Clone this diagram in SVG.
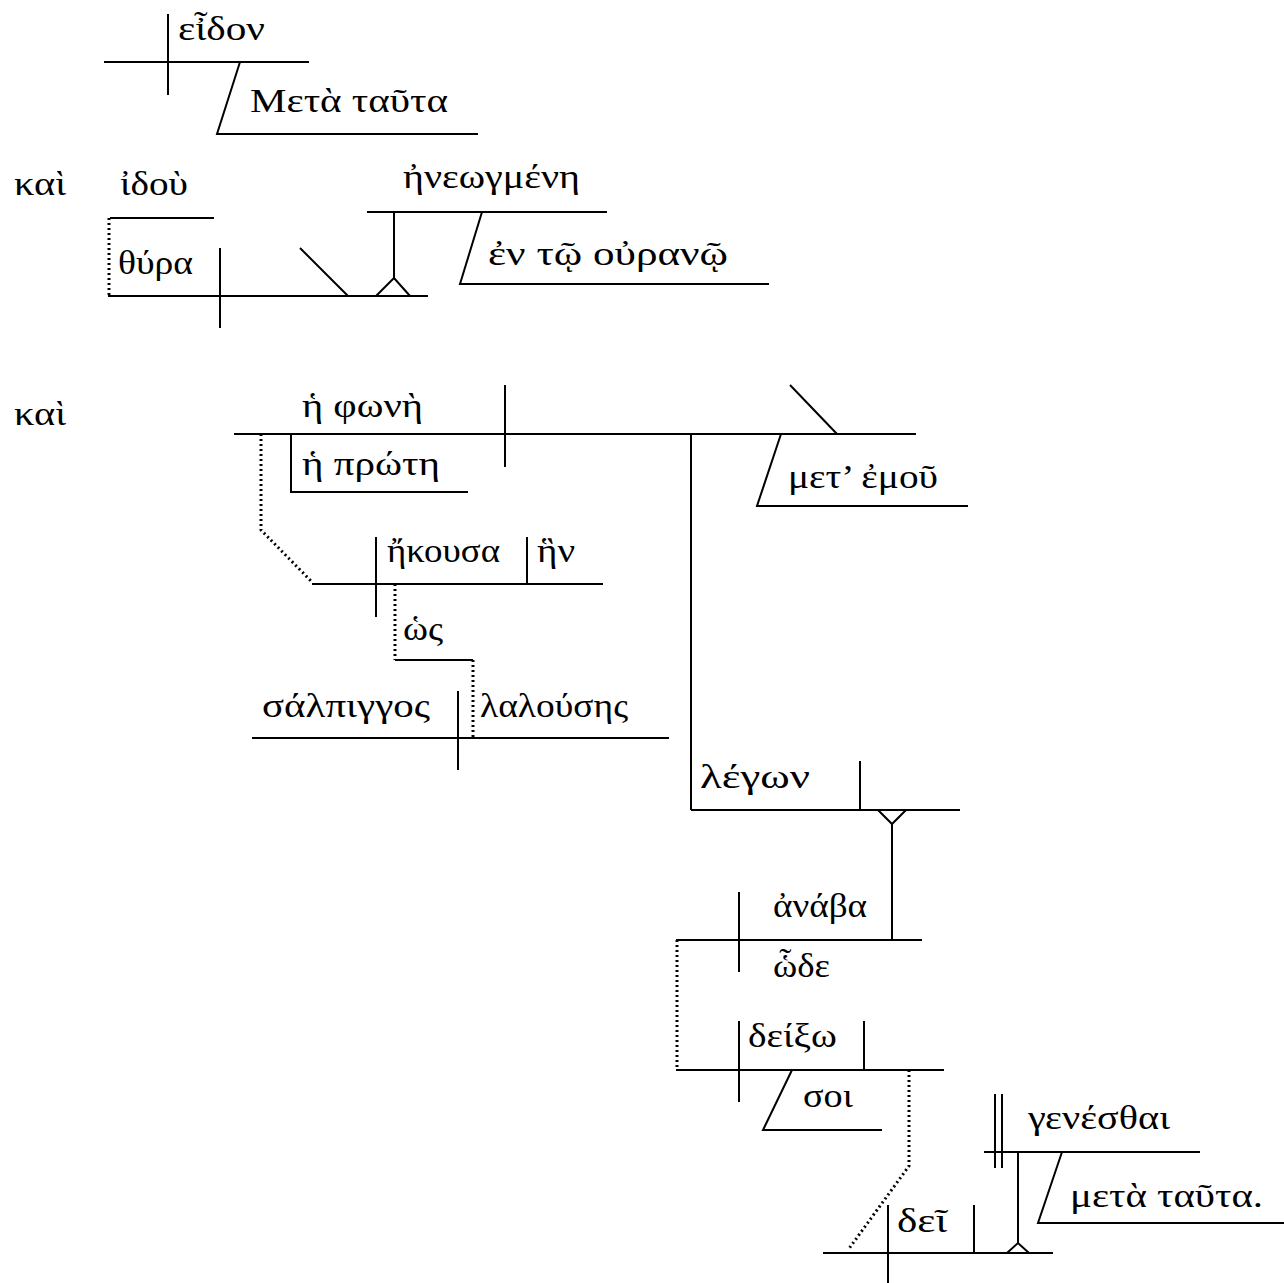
<svg xmlns="http://www.w3.org/2000/svg" width="1284" height="1283" viewBox="0 0 1284 1283">
<style>
.ln{stroke:#000;stroke-width:2;fill:none}
.dt{stroke:#000;stroke-width:3;fill:none;stroke-dasharray:2 3}
text{font-family:"Liberation Serif","DejaVu Serif",serif;font-size:34px;fill:#000}
</style>
<rect width="1284" height="1283" fill="#fff"/>
<g id="connectors">
<path class="dt" d="M109 218V296"/>
<path class="dt" d="M261 434V530L312 582"/>
<path class="dt" d="M395 584V660"/>
<path class="ln" d="M395 660H473"/>
<path class="dt" d="M473 660V738"/>
<path class="ln" d="M691 434V810"/>
<path class="ln" d="M892 824V940M878 810L892 824L906 810"/>
<path class="dt" d="M677 940V1070"/>
<path class="dt" d="M909 1070V1166L848 1250"/>
<path class="ln" d="M1018 1152V1243M1007 1253L1018 1243L1029 1253"/>
<path class="ln" d="M394 212V278M376 296L394 278L410 296"/>
</g>
<g id="n-eidon">
<path class="ln" d="M104 62H309M168 14V95"/>
<text x="178" y="40" textLength="87" lengthAdjust="spacingAndGlyphs">εἶδον</text>
</g>
<g id="n-meta-tauta">
<path class="ln" d="M240 62L217 134H478"/>
<text x="250" y="112" textLength="198" lengthAdjust="spacingAndGlyphs">Μετὰ ταῦτα</text>
</g>
<g id="n-kai1"><text x="14" y="195" textLength="52" lengthAdjust="spacingAndGlyphs">καὶ</text></g>
<g id="n-idou">
<path class="ln" d="M110 218H214"/>
<text x="120" y="195" textLength="68" lengthAdjust="spacingAndGlyphs">ἰδοὺ</text>
</g>
<g id="n-thura">
<path class="ln" d="M108 296H428M220 248V328M300 248L348 296"/>
<text x="118" y="274" textLength="75" lengthAdjust="spacingAndGlyphs">θύρα</text>
</g>
<g id="n-ineogmeni">
<path class="ln" d="M367 212H607"/>
<text x="403" y="188" textLength="177" lengthAdjust="spacingAndGlyphs">ἠνεωγμένη</text>
</g>
<g id="n-en-to-ourano">
<path class="ln" d="M482 212L460 284H769"/>
<text x="488" y="265" textLength="240" lengthAdjust="spacingAndGlyphs">ἐν τῷ οὐρανῷ</text>
</g>
<g id="n-kai2"><text x="14" y="425" textLength="52" lengthAdjust="spacingAndGlyphs">καὶ</text></g>
<g id="n-phone">
<path class="ln" d="M234 434H916M505 385V467"/>
<text x="302" y="417" textLength="121" lengthAdjust="spacingAndGlyphs">ἡ φωνὴ</text>
</g>
<g id="n-prote">
<path class="ln" d="M291 434V492H468"/>
<text x="302" y="475" textLength="138" lengthAdjust="spacingAndGlyphs">ἡ πρώτη</text>
</g>
<g id="n-met-emou">
<path class="ln" d="M790 385L837 434M781 434L757 506H968"/>
<text x="788" y="488" textLength="150" lengthAdjust="spacingAndGlyphs">μετ’ ἐμοῦ</text>
</g>
<g id="n-ekousa">
<path class="ln" d="M312 584H603M376 537V617M527 537V584"/>
<text x="387" y="562" textLength="113" lengthAdjust="spacingAndGlyphs">ἤκουσα</text>
<text x="537" y="562" textLength="38" lengthAdjust="spacingAndGlyphs">ἣν</text>
</g>
<g id="n-hos"><text x="403" y="640" textLength="40" lengthAdjust="spacingAndGlyphs">ὡς</text></g>
<g id="n-salpiggos">
<path class="ln" d="M252 738H669M458 691V770"/>
<text x="262" y="717" textLength="168" lengthAdjust="spacingAndGlyphs">σάλπιγγος</text>
<text x="480" y="717" textLength="148" lengthAdjust="spacingAndGlyphs">λαλούσης</text>
</g>
<g id="n-legon">
<path class="ln" d="M691 810H960M860 761V810"/>
<text x="700" y="788" textLength="110" lengthAdjust="spacingAndGlyphs">λέγων</text>
</g>
<g id="n-anaba">
<path class="ln" d="M676 940H922M739 892V972"/>
<text x="773" y="917" textLength="94" lengthAdjust="spacingAndGlyphs">ἀνάβα</text>
<text x="773" y="977" textLength="57" lengthAdjust="spacingAndGlyphs">ὧδε</text>
</g>
<g id="n-deixo">
<path class="ln" d="M676 1070H944M739 1021V1102M864 1021V1070"/>
<text x="748" y="1047" textLength="89" lengthAdjust="spacingAndGlyphs">δείξω</text>
</g>
<g id="n-soi">
<path class="ln" d="M792 1070L763 1130H882"/>
<text x="803" y="1107" textLength="50" lengthAdjust="spacingAndGlyphs">σοι</text>
</g>
<g id="n-dei">
<path class="ln" d="M823 1253H1053M888 1205V1283M974 1205V1253"/>
<text x="897" y="1232" textLength="50" lengthAdjust="spacingAndGlyphs">δεῖ</text>
</g>
<g id="n-genesthai">
<path class="ln" d="M984 1152H1200M995 1094V1168M1002 1094V1168"/>
<text x="1028" y="1129" textLength="142" lengthAdjust="spacingAndGlyphs">γενέσθαι</text>
</g>
<g id="n-meta-tauta2">
<path class="ln" d="M1062 1152L1038 1223H1284"/>
<text x="1070" y="1207" textLength="193" lengthAdjust="spacingAndGlyphs">μετὰ ταῦτα.</text>
</g>
</svg>
